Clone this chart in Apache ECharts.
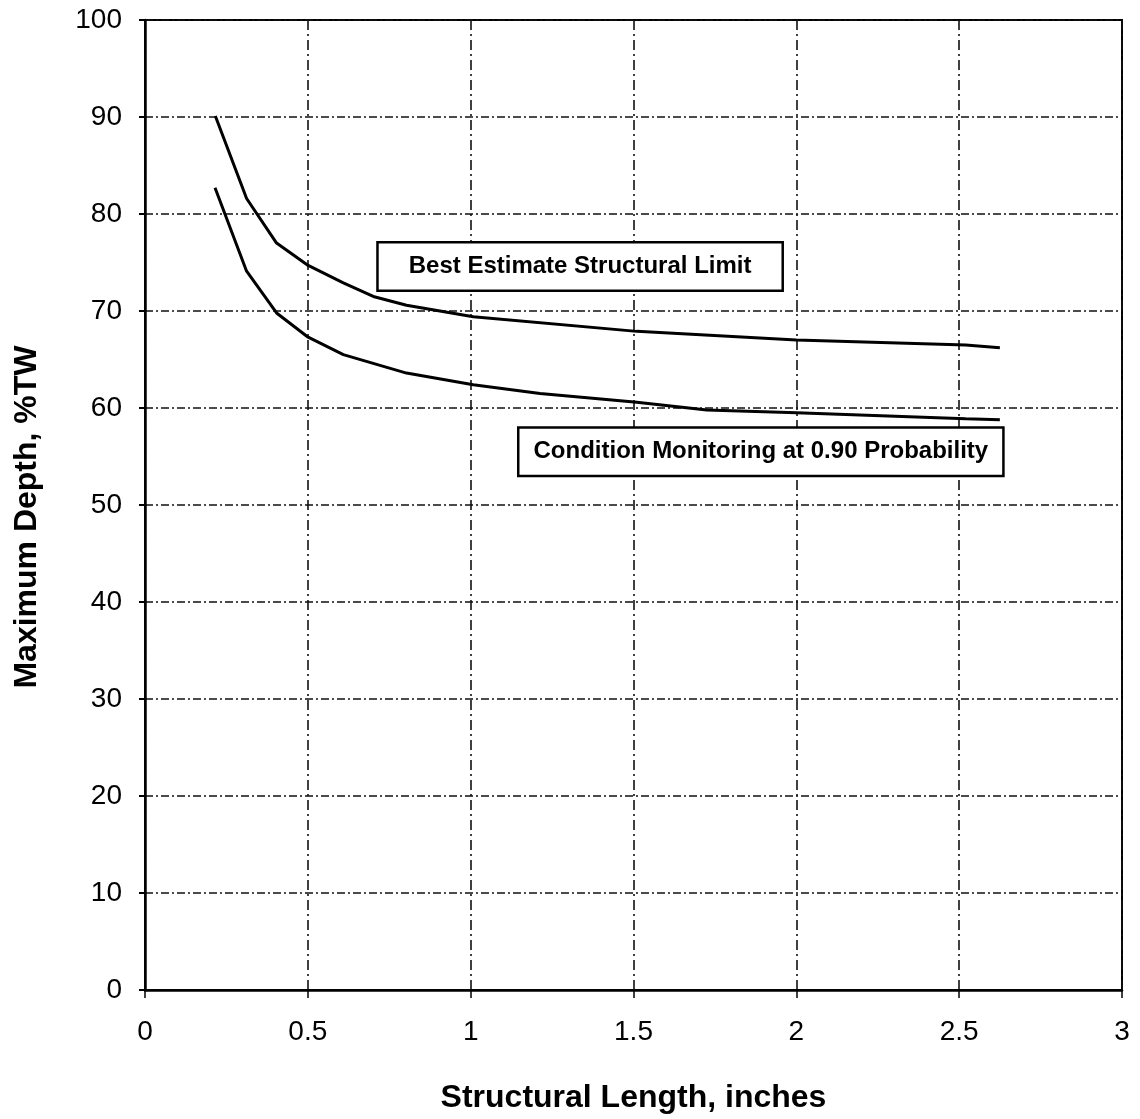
<!DOCTYPE html>
<html><head><meta charset="utf-8">
<script src="https://cdn.jsdelivr.net/npm/echarts@6/dist/echarts.min.js"></script>
<style>html,body{margin:0;padding:0;background:#fff}#c{width:1140px;height:1119px}</style>
</head><body><div id="c"></div>
<script>
var bestEstimate = [[0.216,90.1],[0.312,81.6],[0.404,77.0],[0.501,74.7],[0.609,72.9],[0.701,71.5],[0.803,70.6],[1.008,69.4],[1.51,67.9],[2.0,67.0],[2.52,66.5],[2.625,66.2]];
var conditionMonitoring = [[0.215,82.7],[0.312,74.1],[0.404,69.8],[0.501,67.3],[0.609,65.5],[0.803,63.6],[1.008,62.4],[1.213,61.5],[1.51,60.6],[1.725,59.8],[2.0,59.5],[2.52,58.9],[2.625,58.8]];
var labelBest = {text:'Best Estimate Structural Limit', pos:[1.336,74.6]};
var labelCM = {text:'Condition Monitoring at 0.90 Probability', pos:[1.891,55.5]};
var xTicks = {min:0,max:3,interval:0.5};
var yTicks = {min:0,max:100,interval:10};

var chart = echarts.init(document.getElementById('c'));
var FONT = '"Liberation Sans", Arial, sans-serif';
function boxLabel(l, padH){
  return {type:'scatter', data:[l.pos], symbolSize:0, silent:true, z:5,
    itemStyle:{opacity:1}, emphasis:{disabled:true},
    label:{show:true, position:'inside', formatter:l.text, fontFamily:FONT, fontWeight:'bold', fontSize:24, color:'#000',
      textBorderWidth:0, textBorderColor:'transparent', textShadowBlur:0, opacity:1,
      backgroundColor:'#fff', borderColor:'#000', borderWidth:2.5, padding:[11,padH,11,padH]}};
}
chart.setOption({
  animation:false,
  backgroundColor:'#fff',
  grid:{left:145,right:18,top:20,bottom:129,show:true,borderColor:'#000',borderWidth:2},
  xAxis:{type:'value',min:xTicks.min,max:xTicks.max,interval:xTicks.interval,
    name:'Structural Length, inches',nameLocation:'middle',nameGap:92,
    nameTextStyle:{fontFamily:FONT,fontWeight:'bold',fontSize:32,color:'#000'},
    axisLine:{lineStyle:{color:'#000',width:2.5}},
    axisTick:{show:true,length:8,lineStyle:{color:'#000',width:1.5}},
    axisLabel:{fontFamily:FONT,fontSize:28,color:'#000',margin:28},
    splitLine:{show:true,lineStyle:{color:'#111',width:1.6,type:[10,4,2,4]}}},
  yAxis:{type:'value',min:yTicks.min,max:yTicks.max,interval:yTicks.interval,
    name:'Maximum Depth, %TW',nameLocation:'middle',nameGap:102,
    nameTextStyle:{fontFamily:FONT,fontWeight:'bold',fontSize:32,color:'#000',padding:[0,24,0,0]},
    axisLine:{lineStyle:{color:'#000',width:2.5}},
    axisTick:{show:true,length:6,lineStyle:{color:'#000',width:2}},
    axisLabel:{fontFamily:FONT,fontSize:28,color:'#000',margin:23},
    splitLine:{show:true,lineStyle:{color:'#111',width:1.6,type:[8,3,2,3]}}},
  series:[
    {type:'line',data:bestEstimate,symbol:'none',lineStyle:{color:'#000',width:3},z:3},
    {type:'line',data:conditionMonitoring,symbol:'none',lineStyle:{color:'#000',width:3},z:3},
    boxLabel(labelBest, 30), boxLabel(labelCM, 14)
  ]
});
</script></body></html>
